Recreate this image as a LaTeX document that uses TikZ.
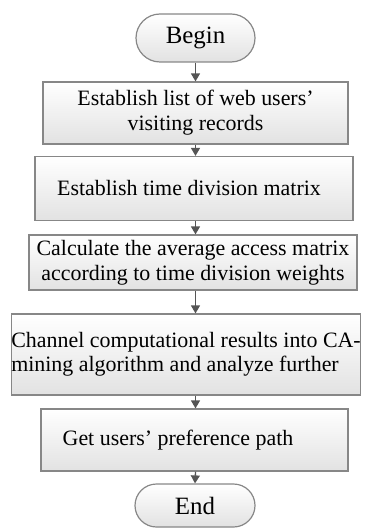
\documentclass[tikz,border=0pt]{standalone}
\usepackage{fontspec}
\setmainfont{Liberation Serif}
\usetikzlibrary{arrows.meta}
\definecolor{bordergray}{RGB}{135,135,135}
\definecolor{arrowgray}{RGB}{85,85,85}
\definecolor{fillbottom}{RGB}{226,226,226}
\begin{document}
\begin{tikzpicture}[x=1bp,y=-1bp,
  box/.style={draw=bordergray, line width=1.2bp, top color=white, bottom color=fillbottom,
    inner sep=0pt, font=\fontsize{22}{25}\selectfont, align=center},
  term/.style={box, font=\fontsize{25}{28}\selectfont},
  flow/.style={draw=arrowgray, line width=1.3bp, -{Triangle[length=8bp,width=9bp]}}]
\useasboundingbox (0,0) rectangle (371,528);
\node[term, rounded corners=24bp, minimum width=119bp, minimum height=48bp] (begin) at (195.5,38) {Begin};
\node[box, minimum width=305bp, minimum height=62bp] (b1) at (195.5,113)
  {Establish list of web users'\\visiting records};
\node[box, minimum width=318bp, minimum height=64bp] (b2) at (194,188.5)
  {Establish time division matrix\hspace*{10bp}};
\node[box, minimum width=328bp, minimum height=55bp] (b3) at (193,262.5)
  {Calculate the average access matrix\\according to time division weights};
\node[box, minimum width=348bp, minimum height=81bp] (b4) at (186,354.5)
  {\raisebox{3bp}{\begin{tabular}{@{}l@{}}Channel computational results into CA-\\mining algorithm and analyze further\end{tabular}}};
\node[box, minimum width=307bp, minimum height=62bp] (b5) at (194.5,440)
  {Get users' preference path\hspace*{33bp}};
\node[term, rounded corners=21.5bp, minimum width=120bp, minimum height=43bp] (end) at (195,505.5) {End};
\draw[flow] (begin.south) -- (begin.south |- b1.north);
\draw[flow] (b1.south -| begin.south) -- (begin.south |- b2.north);
\draw[flow] (b2.south -| begin.south) -- (begin.south |- b3.north);
\draw[flow] (b3.south -| begin.south) -- (begin.south |- b4.north);
\draw[flow] (b4.south -| begin.south) -- (begin.south |- b5.north);
\draw[flow] (b5.south -| begin.south) -- (end.north);
\end{tikzpicture}
\end{document}
